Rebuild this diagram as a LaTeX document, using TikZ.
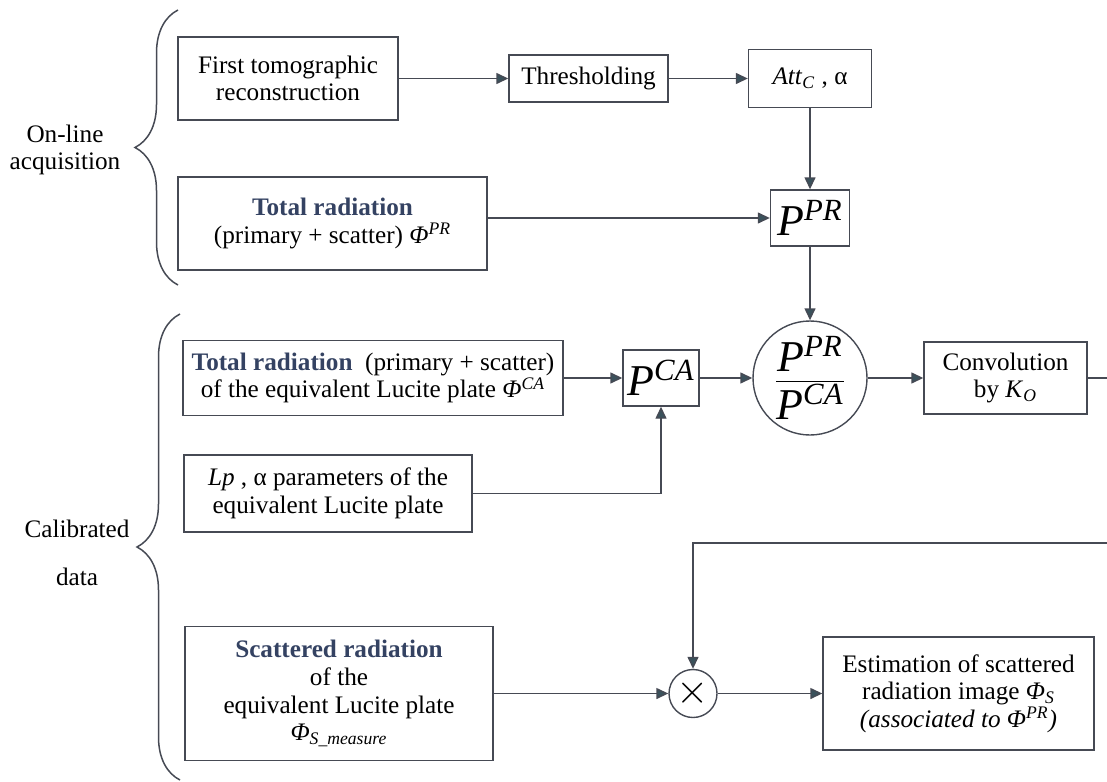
\documentclass[tikz,border=0pt]{standalone}
\usepackage{fontspec}
\setmainfont{Liberation Serif}
\usepackage{tikz}
\usetikzlibrary{arrows.meta,decorations.pathreplacing}
\usepackage{xcolor}

\definecolor{linegray}{RGB}{70,74,84}
\definecolor{tipslate}{RGB}{58,82,92}
\definecolor{inkblue}{RGB}{52,66,98}

\tikzset{
	blk/.style={draw=linegray, line width=0.7pt, align=center, inner sep=2pt},
	rnd/.style={draw=linegray, line width=0.7pt, circle, inner sep=0pt},
	wire/.style={draw=linegray, line width=0.7pt},
	brc/.style={draw=linegray, line width=0.75pt, decorate, decoration={brace, amplitude=21.5pt}},
}
\newcommand{\hd}[1]{\textcolor{inkblue}{\textbf{#1}}}
\newcommand{\bigP}[1]{{\fontsize{22}{24}\selectfont\textit{P}\textsuperscript{\textit{#1}}}}

\begin{document}
\begin{tikzpicture}[x=0.5pt, y=-0.5pt, >={Triangle[length=6pt,width=5.5pt,fill=tipslate]}, font=\fontsize{12.6}{13.8}\selectfont]
					\useasboundingbox (0,0) rectangle (1107,781);
					
					% on-line acquisition
					\node[blk, minimum width=110pt, minimum height=41.5pt] (first) at (288,78.5) {First tomographic\\reconstruction};
					\node[blk, minimum width=79.5pt, minimum height=23.5pt] (thresh) at (588.5,78.5) {Thresholding};
					\node[blk, minimum width=61.5pt, minimum height=29pt] (att) at (810,78.5) {\textit{Att}\textsubscript{\textit{C}} , α};
					\node[blk, minimum width=154.5pt, minimum height=46.5pt] (totpr) at (332.5,223.5) {\hd{Total radiation}\\(primary + scatter) \textit{Φ}\textsuperscript{\textit{PR}}};
					\node[blk, minimum width=39.5pt, minimum height=28pt] (ppr) at (810,218) {\bigP{PR}};
					
					% calibrated data
					\node[blk, minimum width=190pt, minimum height=37.5pt] (totca) at (373,378) {\hd{Total radiation}~ (primary + scatter)\\of the equivalent Lucite plate \textit{Φ}\textsuperscript{\textit{CA}}};
					\node[blk, minimum width=38pt, minimum height=28pt] (pca) at (661,378) {\bigP{CA}};
					\node[rnd, minimum size=57pt] (ratio) at (810,378) {$\displaystyle\frac{\hbox{\bigP{PR}}}{\hbox{\bigP{CA}}}$};
					\node[blk, minimum width=81.5pt, minimum height=36pt] (conv) at (1005.5,378) {Convolution\\by \textit{K}\textsubscript{\textit{O}}};
					\node[blk, minimum width=144pt, minimum height=38.5pt] (lp) at (328,493.5) {\textit{Lp} , α parameters of the\\equivalent Lucite plate};
					\node[blk, minimum width=154pt, minimum height=67pt] (scat) at (339,693.5) {\hd{Scattered radiation}\\of the\\equivalent Lucite plate\\\textit{Φ}\textsubscript{\textit{S\_measure}}};
					\node[rnd, minimum size=24pt] (mult) at (693,693.5) {\fontsize{20}{20}\selectfont$\times$};
					\node[blk, minimum width=135.5pt, minimum height=56.5pt] (est) at (958.5,693.5) {Estimation of scattered\\radiation image \textit{Φ}\textsubscript{\textit{S}}\\\textit{(associated to Φ\textsuperscript{PR})}};
					
					\coordinate (edge) at (1112,378);
					\coordinate (back) at (1112,543);
					
					\draw[wire, ->] (first) -- (thresh);
					\draw[wire, ->] (thresh) -- (att);
					\draw[wire, ->] (att) -- (ppr);
					\draw[wire, ->] (totpr.east |- ppr) -- (ppr);
					\draw[wire, ->] (ppr) -- (ratio);
					\draw[wire, ->] (totca) -- (pca);
					\draw[wire, ->] (lp) -| (pca);
					\draw[wire, ->] (pca) -- (ratio);
					\draw[wire, ->] (ratio) -- (conv);
					\draw[wire, ->] (conv) -- (edge) -- (back) -| (mult);
					\draw[wire, ->] (scat) -- (mult);
					\draw[wire, ->] (mult) -- (est);
					
					% braces
					\draw[brc] (178,285) -- (178,10);
					\draw[brc] (180,780) -- (180,314);
					\node[align=center] (online) at (65,150) {On-line\\acquisition};
					\node[align=center] (calib) at (77,553) {Calibrated\\[10pt]data};
				\end{tikzpicture}
\end{document}
